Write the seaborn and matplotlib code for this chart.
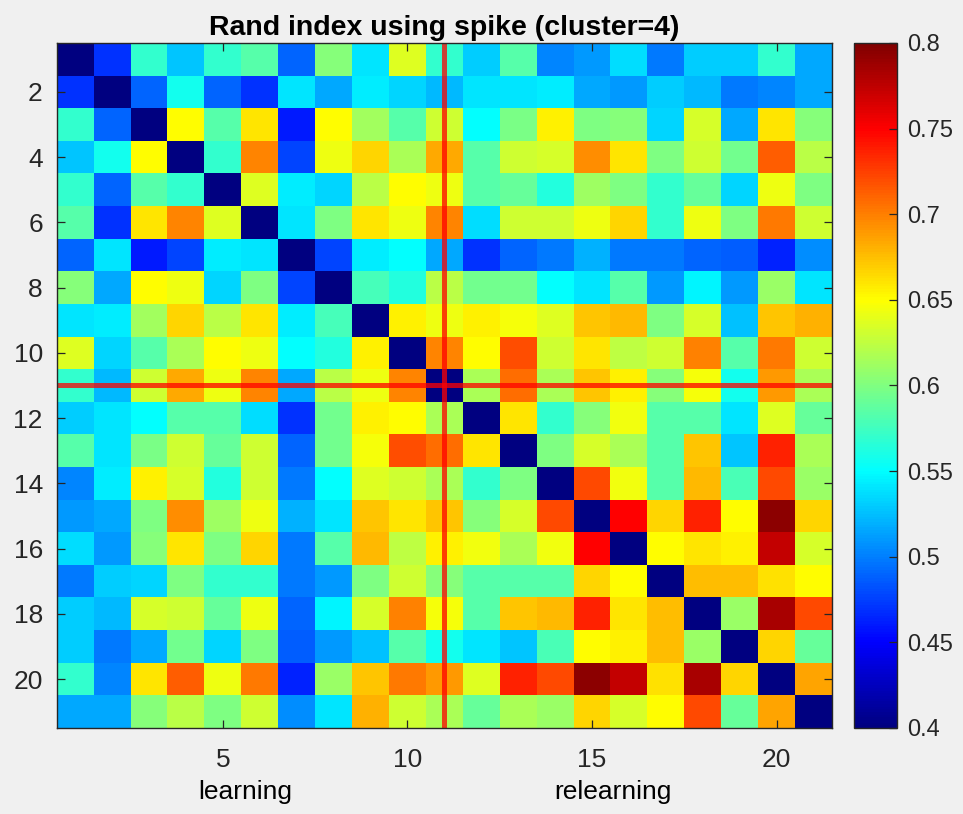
import numpy as np
import matplotlib
matplotlib.use("Agg")
import matplotlib.pyplot as plt
from matplotlib.colors import LinearSegmentedColormap
import seaborn as sns

plt.rcParams["font.family"] = ["Liberation Sans", "DejaVu Sans"]

# Rand index between sessions (upper triangle, row i holds columns i+1..21)
n_sessions = 21
diag_value = 0.4
upper_rows = [
    [0.47, 0.57, 0.528, 0.57, 0.583, 0.49, 0.603, 0.54, 0.637, 0.57, 0.53, 0.583, 0.503, 0.51, 0.537, 0.497, 0.53, 0.53, 0.57, 0.517],
    [0.49, 0.557, 0.49, 0.47, 0.54, 0.517, 0.543, 0.533, 0.523, 0.54, 0.54, 0.543, 0.517, 0.51, 0.53, 0.523, 0.497, 0.503, 0.517],
    [0.65, 0.583, 0.66, 0.46, 0.65, 0.613, 0.583, 0.63, 0.55, 0.597, 0.655, 0.6, 0.603, 0.533, 0.633, 0.517, 0.66, 0.603],
    [0.57, 0.697, 0.477, 0.643, 0.667, 0.617, 0.683, 0.583, 0.63, 0.633, 0.695, 0.66, 0.6, 0.63, 0.594, 0.713, 0.623],
    [0.637, 0.543, 0.533, 0.623, 0.65, 0.643, 0.583, 0.59, 0.563, 0.612, 0.6, 0.57, 0.59, 0.533, 0.643, 0.6],
    [0.54, 0.6, 0.66, 0.643, 0.697, 0.537, 0.63, 0.63, 0.643, 0.667, 0.57, 0.643, 0.6, 0.703, 0.63],
    [0.477, 0.543, 0.55, 0.517, 0.47, 0.49, 0.497, 0.52, 0.497, 0.497, 0.49, 0.487, 0.463, 0.505],
    [0.577, 0.563, 0.623, 0.594, 0.594, 0.55, 0.54, 0.583, 0.51, 0.546, 0.51, 0.61, 0.54],
    [0.655, 0.643, 0.655, 0.646, 0.637, 0.672, 0.677, 0.6, 0.633, 0.525, 0.672, 0.681],
    [0.697, 0.65, 0.719, 0.63, 0.66, 0.625, 0.63, 0.7, 0.583, 0.703, 0.63],
    [0.617, 0.707, 0.617, 0.672, 0.656, 0.603, 0.646, 0.557, 0.69, 0.617],
    [0.66, 0.57, 0.603, 0.644, 0.583, 0.583, 0.54, 0.637, 0.59],
    [0.6, 0.633, 0.617, 0.583, 0.672, 0.528, 0.737, 0.617],
    [0.721, 0.644, 0.583, 0.677, 0.579, 0.721, 0.61],
    [0.75, 0.667, 0.737, 0.65, 0.794, 0.667],
    [0.65, 0.66, 0.655, 0.772, 0.633],
    [0.675, 0.675, 0.662, 0.65],
    [0.61, 0.783, 0.721],
    [0.667, 0.59],
    [0.685],
]

x_ticks = [5, 10, 15, 20]
y_ticks = [2, 4, 6, 8, 10, 12, 14, 16, 18, 20]
cbar_ticks = [0.4, 0.45, 0.5, 0.55, 0.6, 0.65, 0.7, 0.75, 0.8]
split_session = 11

# build the symmetric matrix
rand_idx = np.full((n_sessions, n_sessions), diag_value)
for i, row in enumerate(upper_rows):
    rand_idx[i, i + 1:] = row
    rand_idx[i + 1:, i] = row

# MATLAB style jet
jet = LinearSegmentedColormap.from_list("matlab_jet", [
    (0.0, (0, 0, 0.5)), (0.125, (0, 0, 1)), (0.375, (0, 1, 1)),
    (0.625, (1, 1, 0)), (0.875, (1, 0, 0)), (1.0, (0.5, 0, 0))], N=256)

bg = "#f0f0f0"
dark = "#262626"
fig = plt.figure(figsize=(9.63, 8.14), dpi=100, facecolor=bg)
ax = fig.add_axes([0.0589, 0.1057, 0.805, 0.8415])
cax = fig.add_axes([0.8873, 0.1057, 0.0441, 0.8415])

sns.heatmap(rand_idx, ax=ax, cmap=jet, vmin=0.4, vmax=0.8, cbar_ax=cax,
            xticklabels=False, yticklabels=False,
            cbar_kws={"ticks": cbar_ticks})

ax.set_xticks([t - 0.5 for t in x_ticks])
ax.set_xticklabels([str(t) for t in x_ticks])
ax.set_yticks([t - 0.5 for t in y_ticks])
ax.set_yticklabels([str(t) for t in y_ticks], rotation=0)
ax.tick_params(direction="in", length=6, width=0.9, color=dark, labelcolor=dark,
               labelsize=19, top=True, right=True)
ax.tick_params(axis="x", pad=14.5)
ax.tick_params(axis="y", pad=10)
for s in ax.spines.values():
    s.set_visible(True)
    s.set_color(dark)
    s.set_linewidth(1.0)

# session split markers
ax.axvline(split_session - 0.5, color="red", alpha=0.75, lw=3.6)
ax.axhline(split_session - 0.5, color="red", alpha=0.75, lw=3.6)

ax.set_title("Rand index using spike (cluster=4)", fontsize=20.5, fontweight="bold",
             color="black", pad=6)
ax.text(0.243, -0.093, "learning", transform=ax.transAxes, ha="center", va="center",
        fontsize=19, color="black")
ax.text(0.718, -0.093, "relearning", transform=ax.transAxes, ha="center", va="center",
        fontsize=19, color="black")

cbar = ax.collections[0].colorbar
cbar.ax.set_yticklabels([f"{t:g}" for t in cbar_ticks])
cbar.ax.tick_params(direction="in", length=6, width=0.9, color=dark,
                    labelcolor=dark, labelsize=17, pad=7)
cbar.outline.set_edgecolor(dark)
cbar.outline.set_linewidth(1.0)

fig.savefig("out.png", dpi=100, facecolor=bg)
